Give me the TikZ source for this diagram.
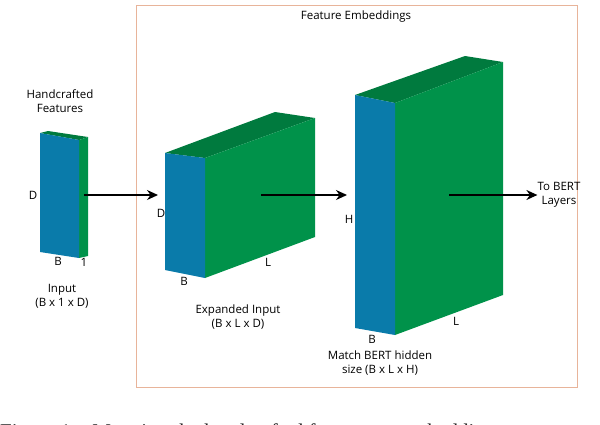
\documentclass[tikz,border=0pt]{standalone}
\usepackage{fontspec}
\setmainfont{Open Sans}
\newfontfamily\capfont{Liberation Serif}
\usetikzlibrary{arrows.meta}
\definecolor{cblue}{HTML}{0A7BAA}
\definecolor{cgreen}{HTML}{00924A}
\definecolor{ctop}{HTML}{007A3E}
\definecolor{cframe}{HTML}{E8B49A}
\begin{document}
\begin{tikzpicture}[x=1pt,y=-1pt,
  lbl/.style={font=\fontsize{11.5}{14}\selectfont,inner sep=0pt,align=center},
  conn/.style={line width=1.4pt,-{Stealth[length=11pt,width=10pt]}}]
\path[use as bounding box] (0,0) rectangle (600,424);
\begin{scope}
\clip (0,0) rectangle (600,424);
\draw[cframe,line width=0.6pt] (136,5) rectangle (577,387);
\node[lbl] (fe) at (356,17) {Feature Embeddings};
% block 1
\fill[ctop] (40,133) -- (79,140) -- (88,137) -- (48,131) -- cycle;
\fill[cgreen] (79,140) -- (88,137) -- (88,256) -- (79,258) -- cycle;
\fill[cblue] (40,133) -- (79,140) -- (79,258) -- (40,252) -- cycle;
\coordinate (b1) at (84,195);
% block 2
\fill[ctop] (165,153) -- (205,158) -- (315,118) -- (275,112) -- cycle;
\fill[cgreen] (205,158) -- (315,118) -- (315,237) -- (205,278) -- cycle;
\fill[cblue] (165,153) -- (205,158) -- (205,278) -- (165,270) -- cycle;
\coordinate (b2in) at (158,195);
\coordinate (b2) at (261,195);
% block 3
\fill[ctop] (355,95) -- (395,103) -- (503,62) -- (465,56) -- cycle;
\fill[cgreen] (395,103) -- (503,62) -- (503,295) -- (395,335) -- cycle;
\fill[cblue] (355,95) -- (395,103) -- (395,335) -- (355,328) -- cycle;
\coordinate (b3in) at (347,195);
\coordinate (b3) at (449,195);
\node[lbl] (bert) at (559,195) {To BERT\\Layers};
\draw[conn] (b1) -- (b2in);
\draw[conn] (b2) -- (b3in);
\draw[conn] (b3) -- (bert.west);
% labels
\node[lbl] (hf) at (60,101) {Handcrafted\\Features};
\node[lbl] (d1) at (33,195) {D};
\node[lbl] (bb1) at (58,261) {B};
\node[lbl] (one) at (84,262) {1};
\node[lbl] (in1) at (62,296) {Input\\(B x 1 x D)};
\node[lbl] (d2) at (161,213) {D};
\node[lbl] (bb2) at (184,281) {B};
\node[lbl] (l2) at (268,262) {L};
\node[lbl] (in2) at (238,317) {Expanded Input\\(B x L x D)};
\node[lbl] (h3) at (349,219) {H};
\node[lbl] (bb3) at (372,339) {B};
\node[lbl] (l3) at (456,321) {L};
\node[lbl] (in3) at (380,363) {Match BERT hidden\\size (B x L x H)};
\node[anchor=base west,inner sep=0pt,font=\capfont\fontsize{21}{21}\selectfont,text=black!85] (cap) at (0,438) {Figure 1:\ \ \ Mapping\ the\ handcrafted\ features\ to\ embedding};
\end{scope}
\end{tikzpicture}
\end{document}
